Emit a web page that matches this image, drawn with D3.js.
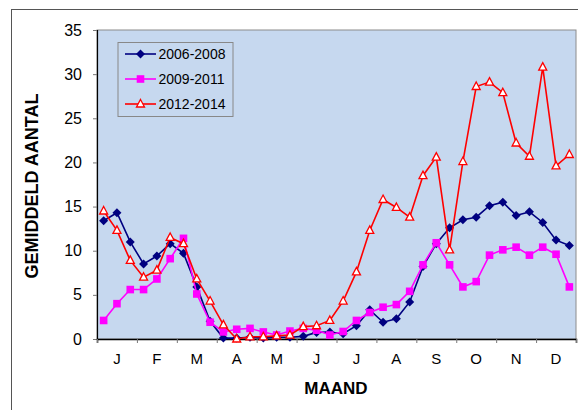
<!DOCTYPE html>
<html><head><meta charset="utf-8">
<script src="https://cdn.jsdelivr.net/npm/d3@7"></script>
<style>
html,body{margin:0;padding:0;background:#fff;}
svg{display:block;font-family:"Liberation Sans",Arial,sans-serif;}
</style></head>
<body><svg id="c" width="578" height="410"></svg>
<script>
const months = ["J","F","M","A","M","J","J","A","S","O","N","D"];
const periodsPerMonth = 3;
const seriesNames = ["2006-2008","2009-2011","2012-2014"];
const s2006 = [13.4,14.3,11.0,8.5,9.4,10.8,9.7,5.9,2.0,0.1,0.1,0.2,0.1,0.2,0.2,0.3,0.75,0.8,0.6,1.5,3.3,1.9,2.3,4.2,8.2,10.8,12.6,13.5,13.8,15.1,15.5,14.0,14.4,13.2,11.2,10.6];
const s2009 = [2.1,4.0,5.6,5.6,6.8,9.1,11.4,5.1,1.9,0.8,1.1,1.2,0.8,0.45,0.9,1.2,1.0,0.45,0.85,2.1,3.0,3.6,3.9,5.4,8.4,10.9,8.4,5.9,6.5,9.5,10.1,10.4,9.5,10.4,9.6,5.9];
const s2012 = [14.5,12.3,8.9,7.0,7.8,11.5,10.8,6.8,4.3,1.6,0.0,0.25,0.25,0.35,0.45,1.4,1.5,2.1,4.3,7.6,12.3,15.8,14.9,13.8,18.5,20.6,10.1,20.1,28.6,29.1,27.9,22.2,20.7,30.8,19.6,20.9];
const yTicks = [0,5,10,15,20,25,30,35];
const xTitle = "MAAND";
const yTitle = "GEMIDDELD AANTAL";

const svg = d3.select("#c");
const L = 97, R = 576, T = 30, B = 339;

// outer frame
svg.append("rect").attr("x",11.5).attr("y",9.5).attr("width",600).attr("height",500)
  .attr("fill","#fff").attr("stroke","#555").attr("stroke-width",1);

const nPts = months.length * periodsPerMonth;
const x = d3.scaleLinear().domain([0, nPts]).range([L, R]);
const xm = d3.scaleLinear().domain([0, months.length]).range([L, R]);
const y = d3.scaleLinear().domain([0, 35]).range([B, T]);

// plot bg
svg.append("rect").attr("x",L).attr("y",T).attr("width",R-L).attr("height",B-T)
  .attr("fill","#C6D8EF").attr("stroke","#8c8c8c").attr("stroke-width",1);

// y axis
const ya = svg.append("g").attr("transform",`translate(${L},0)`)
  .call(d3.axisLeft(y).tickValues(yTicks).tickSize(4).tickPadding(11).tickFormat(d3.format("d")));
ya.select(".domain").attr("stroke","#000").attr("stroke-width",1.2);
ya.selectAll(".tick line").attr("stroke","#777");
ya.selectAll("text").attr("font-size",16).attr("fill","#000").style("font-family","Liberation Sans, Arial, sans-serif");

// x axis ticks at month boundaries
const xa = svg.append("g").attr("transform",`translate(0,${B})`)
  .call(d3.axisBottom(xm).tickValues(d3.range(0, months.length+1)).tickSize(4).tickFormat(""));
xa.select(".domain").attr("stroke","#000").attr("stroke-width",1.5);
xa.selectAll(".tick line").attr("stroke","#777");
// month labels
svg.append("g").selectAll("text").data(months).join("text")
  .attr("x",(d,i)=>xm(i+0.5)).attr("y",364)
  .attr("text-anchor","middle").attr("font-size",15).attr("fill","#000").text(d=>d);

// titles
svg.append("text").attr("x",336).attr("y",394).attr("text-anchor","middle")
  .attr("font-size",17).attr("font-weight","bold").text(xTitle);
svg.append("text").attr("transform","translate(38,186) rotate(-90)").attr("text-anchor","middle")
  .attr("font-size",18).attr("font-weight","bold").text(yTitle);

const px = i => x(i + 0.5);
const line = d3.line().x((d,i)=>px(i)).y(d=>y(d));
const series = [
  {name:seriesNames[0], data:s2006, color:"#000080", marker:"diamond"},
  {name:seriesNames[1], data:s2009, color:"#FF00FF", marker:"square"},
  {name:seriesNames[2], data:s2012, color:"#FF0000", marker:"triangle"}
];
function drawMarker(g, type, color, cx, cy){
  if(type==="diamond"){
    g.append("path").attr("d",`M${cx},${cy-4.5}L${cx+4.5},${cy}L${cx},${cy+4.5}L${cx-4.5},${cy}Z`).attr("fill",color);
  } else if(type==="square"){
    g.append("rect").attr("x",cx-3.8).attr("y",cy-3.8).attr("width",7.6).attr("height",7.6).attr("fill",color);
  } else {
    g.append("path").attr("d",`M${cx},${cy-4.5}L${cx+4},${cy+3}L${cx-4},${cy+3}Z`)
      .attr("fill","#fff").attr("stroke",color).attr("stroke-width",1.3);
  }
}
series.forEach(s=>{
  const g = svg.append("g");
  g.append("path").datum(s.data).attr("d",line).attr("fill","none")
    .attr("stroke",s.color).attr("stroke-width",1.6);
  s.data.forEach((v,i)=>drawMarker(g, s.marker, s.color, px(i), y(v)));
});

// legend
const lg = svg.append("g");
lg.append("rect").attr("x",118).attr("y",42.5).attr("width",115).attr("height",74)
  .attr("fill","#C6D8EF").attr("stroke","#888").attr("stroke-width",1);
series.forEach((s,k)=>{
  const cy = 54 + k*25;
  lg.append("line").attr("x1",125).attr("x2",156).attr("y1",cy).attr("y2",cy)
    .attr("stroke",s.color).attr("stroke-width",1.6);
  drawMarker(lg, s.marker, s.color, 140.5, cy);
  lg.append("text").attr("x",158.5).attr("y",cy+5).attr("font-size",14).text(s.name);
});
</script></body></html>
